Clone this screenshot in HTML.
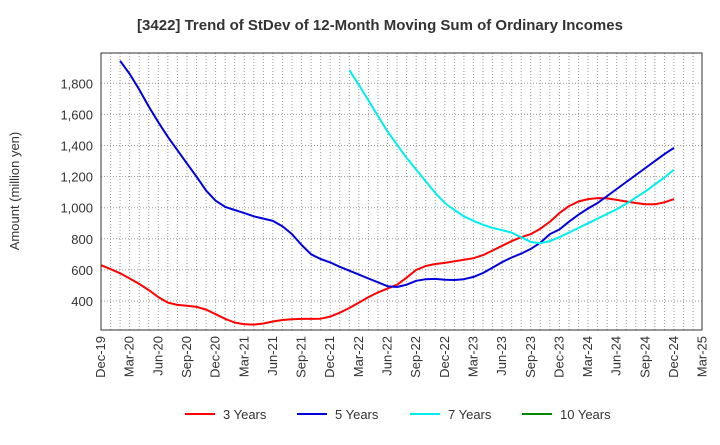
<!DOCTYPE html>
<html><head><meta charset="utf-8"><style>
body{margin:0;background:#fff;font-family:"Liberation Sans",sans-serif}
svg text{font-family:"Liberation Sans",sans-serif}
</style></head><body>
<svg id="chart" width="720" height="440" viewBox="0 0 720 440">
<text x="380" y="30" text-anchor="middle" font-size="15" font-weight="bold" fill="#333">[3422]  Trend of StDev of 12-Month Moving Sum of Ordinary Incomes</text>
<text transform="translate(19,191) rotate(-90)" text-anchor="middle" font-size="13" fill="#333">Amount (million yen)</text>
<g id="grid"></g>
<g id="yticks"></g>
<g id="xticks"></g>
<g id="series"></g>
<rect x="101" y="53" width="601" height="277" fill="none" stroke="#333" stroke-width="1"/>
<g id="legend"></g>
</svg>
<script>
const xLabels=["Dec-19","Mar-20","Jun-20","Sep-20","Dec-20","Mar-21","Jun-21","Sep-21","Dec-21","Mar-22","Jun-22","Sep-22","Dec-22","Mar-23","Jun-23","Sep-23","Dec-23","Mar-24","Jun-24","Sep-24","Dec-24","Mar-25"];
const yTicks=[400,600,800,1000,1200,1400,1600,1800];
const seriesNames=["3 Years","5 Years","7 Years","10 Years"];
const seriesColors=["#ff0000","#0000dd","#00eeee","#008800"];
const start3=0, start5=2, start7=26;
const values3=[630,605,578,545,510,470,425,390,375,370,362,345,315,285,262,250,248,255,268,278,283,285,285,286,300,325,355,390,425,455,480,505,550,600,625,638,645,655,665,675,695,725,755,785,810,830,865,910,965,1010,1040,1055,1062,1060,1050,1040,1030,1022,1022,1035,1055];
const values5=[1945,1860,1760,1650,1550,1455,1370,1285,1200,1110,1045,1005,985,965,945,930,915,880,830,760,700,670,648,620,595,570,545,520,495,490,505,530,540,542,537,535,540,555,580,615,650,680,705,735,775,830,860,910,955,995,1030,1075,1120,1165,1210,1255,1300,1345,1385];
const values7=[1885,1790,1690,1590,1490,1405,1320,1245,1170,1095,1030,985,945,915,890,870,855,840,810,780,772,785,810,840,870,900,930,960,990,1025,1065,1105,1150,1195,1245];
const values10=[];
const NS="http://www.w3.org/2000/svg";
const X0=101,XSTEP=9.55,Y400=301,YSCALE=0.1555;
function xs(i){return X0+i*XSTEP;}
function ys(v){return Y400-(v-400)*YSCALE;}
function mk(tag,attrs,parent){const e=document.createElementNS(NS,tag);for(const k in attrs)e.setAttribute(k,attrs[k]);parent.appendChild(e);return e;}
const grid=document.getElementById('grid'),yt=document.getElementById('yticks'),xt=document.getElementById('xticks'),ser=document.getElementById('series'),leg=document.getElementById('legend');
for(let i=1;i<63;i++){const l=mk('line',{x1:xs(i),x2:xs(i),y1:53,y2:330,stroke:'#999','stroke-dasharray':'1,2','stroke-width':1},grid);

}
yTicks.forEach(v=>{const l=mk('line',{x1:101,x2:702,y1:ys(v),y2:ys(v),stroke:'#999','stroke-dasharray':'1,2','stroke-width':1},grid);


const t=mk('text',{x:93,y:ys(v)+5,'text-anchor':'end','font-size':13,fill:'#333'},yt);t.textContent=v.toLocaleString('en-US');

});
xLabels.forEach((s,k)=>{const x=xs(k*3);const t=mk('text',{transform:`translate(${x+4},336) rotate(-90)`,'text-anchor':'end','font-size':13,fill:'#333'},xt);t.textContent=s;

});
function line(vals,start,color,name){if(!vals.length)return;const p=vals.map((v,i)=>`${i?'L':'M'}${xs(start+i).toFixed(1)},${ys(v).toFixed(1)}`).join('');
const e=mk('path',{d:p,fill:'none',stroke:color,'stroke-width':2,'stroke-linejoin':'round'},ser);

}
line(values3,start3,seriesColors[0],'line-3-years');
line(values5,start5,seriesColors[1],'line-5-years');
line(values7,start7,seriesColors[2],'line-7-years');
line(values10,0,seriesColors[3],'line-10-years');
const lx=[185,297,410,522];
seriesNames.forEach((n,i)=>{const g=mk('g',{},leg);


mk('line',{x1:lx[i],x2:lx[i]+30,y1:414,y2:414,stroke:seriesColors[i],'stroke-width':2},g);
const t=mk('text',{x:lx[i]+38,y:419,'font-size':13,fill:'#333'},g);t.textContent=n;});
</script>
</body></html>
